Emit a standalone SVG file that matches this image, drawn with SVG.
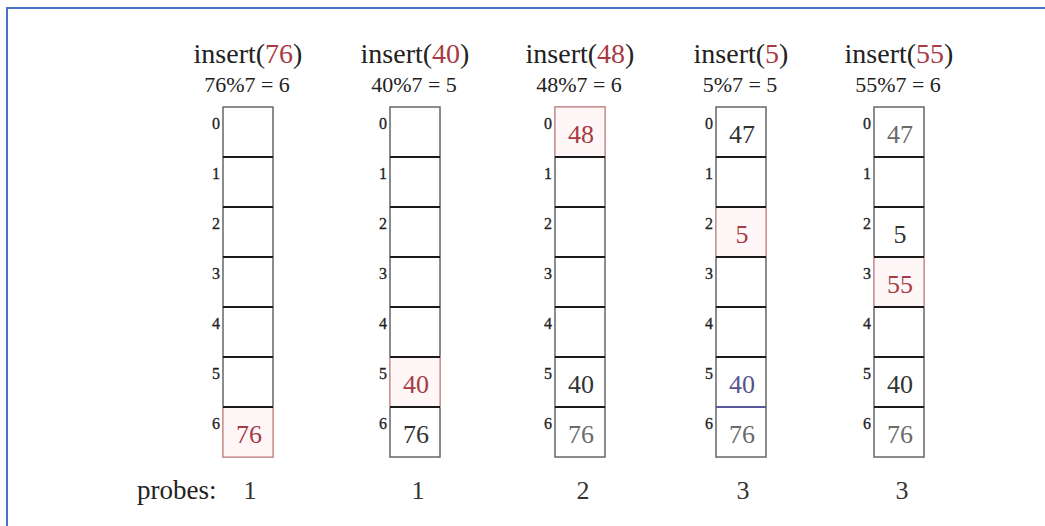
<svg xmlns="http://www.w3.org/2000/svg" width="1045" height="526" viewBox="0 0 1045 526" font-family="'Liberation Serif', 'Times New Roman', Times, 'Noto Serif', 'DejaVu Serif', FreeSerif, serif">
<style>
text{font-family:'Liberation Serif','Times New Roman',Times,'Noto Serif','DejaVu Serif',FreeSerif,serif}
.title{font-size:28px;fill:#222;text-anchor:middle}
.sub{font-size:22px;fill:#222;text-anchor:middle}
.red{fill:#a83a44}
.idx{font-size:16px;fill:#222;text-anchor:end;stroke:#222;stroke-width:0.3}
.val{font-size:26px;text-anchor:middle;fill:#333}
.grey{fill:#6a6a6a}
.blue{fill:#55558a}
.vr{fill:#a83a44}
.box{fill:#fff;stroke:#666;stroke-width:1.5}
.hl{fill:#fff7f7;stroke:#d89a9a;stroke-width:1.5}
.sep{stroke:#1a1a1a;stroke-width:2}
.probe{font-size:27px;fill:#222}
.pn{font-size:26px;fill:#333;text-anchor:middle}
</style>
<rect x="7" y="8" width="1100" height="600" fill="#fff" stroke="#4a72c8" stroke-width="2"/>
<defs>
<g id="seps">
<line class="sep" x1="0" y1="50" x2="50" y2="50"/>
<line class="sep" x1="0" y1="100" x2="50" y2="100"/>
<line class="sep" x1="0" y1="150" x2="50" y2="150"/>
<line class="sep" x1="0" y1="200" x2="50" y2="200"/>
<line class="sep" x1="0" y1="250" x2="50" y2="250"/>
<line class="sep" x1="0" y1="300" x2="50" y2="300"/>
</g>
<g id="idx">
<text class="idx" x="-3" y="22">0</text>
<text class="idx" x="-3" y="72">1</text>
<text class="idx" x="-3" y="122">2</text>
<text class="idx" x="-3" y="172">3</text>
<text class="idx" x="-3" y="222">4</text>
<text class="idx" x="-3" y="272">5</text>
<text class="idx" x="-3" y="322">6</text>
</g>
</defs>

<g id="col1">
<text class="title" x="248" y="63">insert(<tspan class="red">76</tspan>)</text>
<text class="sub" x="247" y="92">76%7 = 6</text>
<g transform="translate(223,107)">
<rect class="box" x="0" y="0" width="50" height="350"/>
<rect class="hl" x="0" y="300" width="50" height="50"/>
<use href="#seps"/>
<use href="#idx"/>
<text class="val vr" x="26" y="336">76</text>
</g>
</g>

<g id="col2">
<text class="title" x="415" y="63">insert(<tspan class="red">40</tspan>)</text>
<text class="sub" x="414" y="92">40%7 = 5</text>
<g transform="translate(390,107)">
<rect class="box" x="0" y="0" width="50" height="350"/>
<rect class="hl" x="0" y="250" width="50" height="50"/>
<use href="#seps"/>
<use href="#idx"/>
<text class="val vr" x="26" y="286">40</text>
<text class="val" x="26" y="336">76</text>
</g>
</g>

<g id="col3">
<text class="title" x="580" y="63">insert(<tspan class="red">48</tspan>)</text>
<text class="sub" x="579" y="92">48%7 = 6</text>
<g transform="translate(555,107)">
<rect class="box" x="0" y="0" width="50" height="350"/>
<rect class="hl" x="0" y="0" width="50" height="50"/>
<use href="#seps"/>
<use href="#idx"/>
<text class="val vr" x="26" y="36">48</text>
<text class="val" x="26" y="286">40</text>
<text class="val grey" x="26" y="336">76</text>
</g>
</g>

<g id="col4">
<text class="title" x="741" y="63">insert(<tspan class="red">5</tspan>)</text>
<text class="sub" x="740" y="92">5%7 = 5</text>
<g transform="translate(716,107)">
<rect class="box" x="0" y="0" width="50" height="350"/>
<rect class="hl" x="0" y="100" width="50" height="50"/>
<use href="#seps"/>
<line x1="0" y1="300" x2="50" y2="300" stroke="#5a5a9a" stroke-width="2"/>
<use href="#idx"/>
<text class="val" x="26" y="36">47</text>
<text class="val vr" x="26" y="136">5</text>
<text class="val blue" x="26" y="286">40</text>
<text class="val grey" x="26" y="336">76</text>
</g>
</g>

<g id="col5">
<text class="title" x="899" y="63">insert(<tspan class="red">55</tspan>)</text>
<text class="sub" x="898" y="92">55%7 = 6</text>
<g transform="translate(874,107)">
<rect class="box" x="0" y="0" width="50" height="350"/>
<rect class="hl" x="0" y="150" width="50" height="50"/>
<use href="#seps"/>
<use href="#idx"/>
<text class="val grey" x="26" y="36">47</text>
<text class="val" x="26" y="136">5</text>
<text class="val vr" x="26" y="186">55</text>
<text class="val" x="26" y="286">40</text>
<text class="val grey" x="26" y="336">76</text>
</g>
</g>

<g id="probes">
<text class="probe" x="137" y="499">probes:</text>
<text class="pn" x="250" y="499">1</text>
<text class="pn" x="418" y="499">1</text>
<text class="pn" x="583" y="499">2</text>
<text class="pn" x="743" y="499">3</text>
<text class="pn" x="902" y="499">3</text>
</g>
</svg>
